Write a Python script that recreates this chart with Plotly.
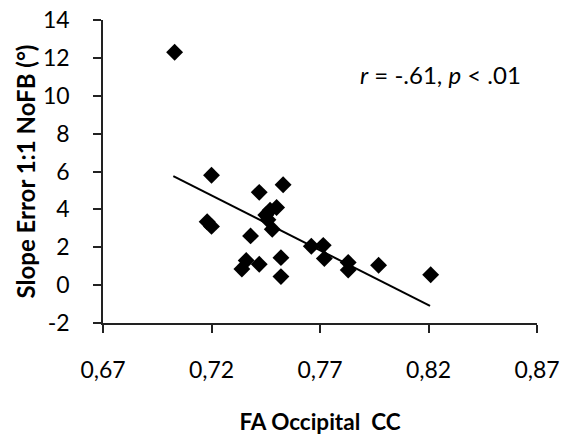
import plotly.graph_objects as go

fa_cc = [0.703, 0.720, 0.718, 0.720, 0.742, 0.753, 0.750, 0.747, 0.745, 0.746, 0.748,
         0.738, 0.736, 0.734, 0.742, 0.752, 0.752, 0.766, 0.7715, 0.772, 0.783, 0.783,
         0.797, 0.821]
slope_err = [12.3, 5.8, 3.35, 3.1, 4.9, 5.3, 4.1, 3.95, 3.7, 3.45, 2.95,
             2.6, 1.3, 0.85, 1.1, 1.45, 0.45, 2.05, 2.1, 1.4, 1.2, 0.8,
             1.05, 0.55]
fit_x = [0.7024, 0.8207]
fit_y = [5.76, -1.10]

x_ticks = [0.67, 0.72, 0.77, 0.82, 0.87]
x_labels = ["0,67", "0,72", "0,77", "0,82", "0,87"]
y_ticks = [-2, 0, 2, 4, 6, 8, 10, 12, 14]
y_labels = ["-2", "0", "2", "4", "6", "8", "10", "12", "14"]

fig = go.Figure()
fig.add_trace(go.Scatter(x=fit_x, y=fit_y, mode="lines",
                         line=dict(color="black", width=2), showlegend=False))
fig.add_trace(go.Scatter(x=fa_cc, y=slope_err, mode="markers",
                         marker=dict(symbol="diamond", size=13, color="black"),
                         showlegend=False))

fig.add_annotation(x=0.8255, y=11.1, xref="x", yref="y",
                   text="<i>r</i> = -.61, <i>p</i> < .01", showarrow=False,
                   font=dict(family="Lato", size=24, color="black"))

# y-axis title placed as a rotated annotation
fig.add_annotation(x=-78 / 434, y=0.5, xref="paper", yref="paper",
                   text="<b>Slope Error 1:1 NoFB (°)</b>", textangle=-90,
                   showarrow=False, xanchor="center", yanchor="middle",
                   font=dict(family="Lato", size=24, color="black"))

fig.update_layout(
    width=561, height=435,
    margin=dict(l=103, r=24, t=20, b=112),
    plot_bgcolor="white", paper_bgcolor="white",
    font=dict(family="Lato", color="black"),
    xaxis=dict(range=[0.67, 0.87], tickvals=x_ticks, ticktext=x_labels,
               automargin=False, ticklabeloverflow="allow",
               showgrid=False, zeroline=False, showline=True, linecolor="#222",
               linewidth=1.5, ticks="outside", ticklen=8, tickwidth=1.5,
               tickcolor="#222", tickfont=dict(size=23, family="Lato"),
               ticklabelstandoff=18,
               title=dict(text="<b>FA Occipital  CC</b>", font=dict(size=22.5, family="Lato"),
                          standoff=34)),
    yaxis=dict(range=[-2, 14], tickvals=y_ticks, ticktext=y_labels,
               automargin=False, ticklabeloverflow="allow",
               showgrid=False, zeroline=False, showline=True, linecolor="#222",
               linewidth=1.5, ticks="outside", ticklen=8, tickwidth=1.5,
               tickcolor="#222", tickfont=dict(size=23, family="Lato"),
               ticklabelstandoff=19),
)

fig.write_html("out.html", config={"displayModeBar": False},
               post_script="document.body.style.margin='0';document.body.style.padding='0';")
